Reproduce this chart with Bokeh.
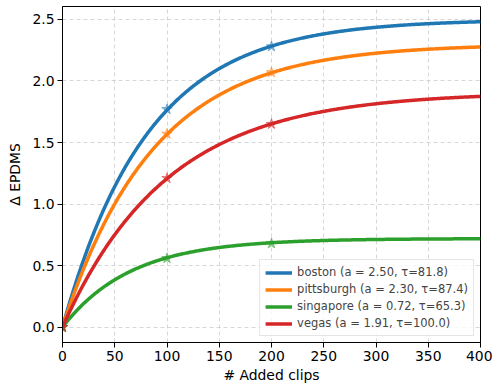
import numpy as np
from bokeh.plotting import figure
from bokeh.models import Range1d, FixedTicker, PrintfTickFormatter, Legend, LegendItem
from bokeh.embed import file_html
from bokeh.resources import INLINE

# Fitted saturating curves y = a * (1 - exp(-x / tau)), parameters from the legend
cities = ["boston", "pittsburgh", "singapore", "vegas"]
a_vals = [2.50, 2.30, 0.72, 1.91]
tau_vals = [81.8, 87.4, 65.3, 100.0]
colors = ["#1f77b4", "#ff7f0e", "#2ca02c", "#d62728"]

# Observed points (star markers)
obs_x = [0, 100, 200]
obs_boston = [0.0, 1.77, 2.28]
obs_pittsburgh = [0.0, 1.57, 2.07]
obs_singapore = [0.0, 0.56, 0.68]
obs_vegas = [0.0, 1.21, 1.65]
obs_all = [obs_boston, obs_pittsburgh, obs_singapore, obs_vegas]

x_ticks = [0, 50, 100, 150, 200, 250, 300, 350, 400]
y_ticks = [0.0, 0.5, 1.0, 1.5, 2.0, 2.5]

FONT = "DejaVu Sans"

p = figure(width=492, height=388, output_backend="svg", toolbar_location=None,
           x_range=Range1d(0, 400), y_range=Range1d(-0.124, 2.605),
           min_border_left=62, min_border_right=12, min_border_top=6, min_border_bottom=46)

p.outline_line_color = "black"
p.outline_line_width = 1
p.background_fill_color = "white"
p.border_fill_color = "white"

xs = np.linspace(0, 400, 401)
items = []
for name, a, tau, c, obs in zip(cities, a_vals, tau_vals, colors, obs_all):
    ys = a * (1 - np.exp(-xs / tau))
    r = p.line(xs, ys, line_color=c, line_width=3.5)
    p.scatter(obs_x, obs, marker="star", size=11, fill_color=c, line_color=c,
              fill_alpha=0.5, line_alpha=0.5)
    items.append(LegendItem(label=f"{name} (a = {a:.2f}, \u03c4={tau:.1f})", renderers=[r]))

legend = Legend(items=items, location="bottom_right")
legend.label_text_font = FONT
legend.label_text_font_size = "11.5px"
legend.label_height = 13
legend.glyph_height = 13
legend.glyph_width = 27
legend.spacing = 3
legend.padding = 5
legend.margin = 6
legend.border_line_color = "#cccccc"
legend.border_line_width = 1
legend.background_fill_alpha = 0.8
p.add_layout(legend)

for ax in (p.xaxis[0], p.yaxis[0]):
    ax.major_label_text_font = FONT
    ax.major_label_text_font_size = "13.9px"
    ax.major_label_text_color = "black"
    ax.axis_label_text_font = FONT
    ax.axis_label_text_font_size = "13.9px"
    ax.axis_label_text_font_style = "normal"
    ax.axis_label_text_color = "black"
    ax.minor_tick_line_color = None
    ax.major_tick_out = 5
    ax.major_tick_in = 0
    ax.axis_line_color = "black"
    ax.major_tick_line_color = "black"

p.xaxis.ticker = FixedTicker(ticks=x_ticks)
p.yaxis.ticker = FixedTicker(ticks=y_ticks)
p.yaxis.formatter = PrintfTickFormatter(format="%.1f")
p.xaxis.axis_label = "# Added clips"
p.yaxis.axis_label = "\u0394 EPDMS"
p.xaxis.axis_label_standoff = 3
p.yaxis.axis_label_standoff = 6
p.xaxis.major_label_standoff = 3
p.yaxis.major_label_standoff = 3

p.grid.grid_line_color = "#b0b0b0"
p.grid.grid_line_alpha = 0.5
p.grid.grid_line_dash = "4 3"
p.grid.grid_line_width = 1

open("out.html", "w").write(file_html(p, INLINE))
